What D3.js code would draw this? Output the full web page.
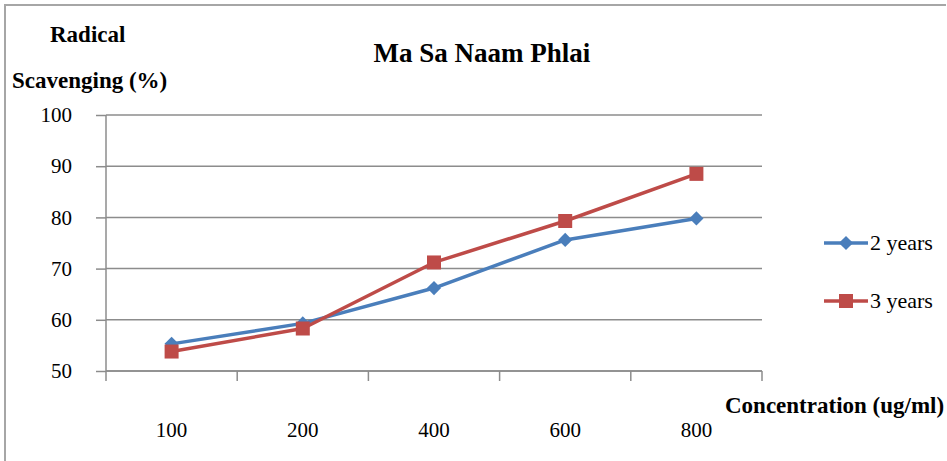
<!DOCTYPE html>
<html>
<head>
<meta charset="utf-8">
<script src="https://cdn.jsdelivr.net/npm/d3@7"></script>
<style>
  body { margin: 0; background: #fff; }
  svg text { font-family: "Times New Roman", "Liberation Serif", "DejaVu Serif", serif; }
</style>
</head>
<body>
<div id="chart"></div>
<script>
// chart data
const concentrations = ["100", "200", "400", "600", "800"];
const years2 = [55.3, 59.3, 66.2, 75.6, 79.8];
const years3 = [53.8, 58.3, 71.2, 79.3, 88.5];
const yTicks = [50, 60, 70, 80, 90, 100];
const seriesNames = ["2 years", "3 years"];

const serif = "'Times New Roman', 'Liberation Serif', 'DejaVu Serif', serif";
const width = 947, height = 461;
const margin = ({top: 115, right: 185, bottom: 90, left: 106});

const svg = d3.select("#chart").append("svg")
  .attr("width", width).attr("height", height)
  .attr("font-family", serif);

// outer frame (top + left edges visible)
svg.append("path")
  .attr("d", `M5,${height} L5,5 L${width - 1},5`)
  .attr("fill", "none")
  .attr("stroke", "#a6a6a6")
  .attr("stroke-width", 2);

const x = d3.scaleBand()
  .domain(concentrations)
  .range([margin.left, width - margin.right])
  .padding(0);

const y = d3.scaleLinear()
  .domain([50, 100])
  .range([height - margin.bottom, margin.top]);

// gridlines
svg.append("g")
  .selectAll("line")
  .data(yTicks)
  .join("line")
    .attr("x1", margin.left)
    .attr("x2", width - margin.right)
    .attr("y1", d => y(d))
    .attr("y2", d => y(d))
    .attr("stroke", "#8c8c8c")
    .attr("stroke-width", 1.5);

// y axis
svg.append("g")
  .attr("transform", `translate(${margin.left},0)`)
  .call(d3.axisLeft(y).tickValues(yTicks).tickSize(10).tickPadding(24))
  .attr("font-family", serif)
  .attr("font-size", 21)
  .call(g => g.selectAll("line, path").attr("stroke", "#8c8c8c").attr("stroke-width", 1.5))
  .call(g => g.select(".domain").attr("d", `M0,${y(100)}V${y(50)}`))
  .call(g => g.selectAll("text").attr("fill", "#000"));

// x axis: ticks between categories
const xBounds = concentrations.map(d => x(d)).concat([x.range()[1]]);
svg.append("line")
  .attr("x1", margin.left).attr("x2", width - margin.right)
  .attr("y1", y(50)).attr("y2", y(50))
  .attr("stroke", "#8c8c8c").attr("stroke-width", 1.5);
svg.append("g")
  .selectAll("line")
  .data(xBounds)
  .join("line")
    .attr("x1", d => d).attr("x2", d => d)
    .attr("y1", y(50)).attr("y2", y(50) + 10)
    .attr("stroke", "#8c8c8c").attr("stroke-width", 1.5);
svg.append("g")
  .selectAll("text")
  .data(concentrations)
  .join("text")
    .attr("x", d => x(d) + x.bandwidth() / 2)
    .attr("y", 437)
    .attr("text-anchor", "middle")
    .attr("font-size", 21)
    .text(d => d);

// lines
const line = d3.line()
  .x((d, i) => x(concentrations[i]) + x.bandwidth() / 2)
  .y(d => y(d));

const colors = ["#4a7ebb", "#be4b48"];

svg.append("path").datum(years2)
  .attr("fill", "none").attr("stroke", colors[0]).attr("stroke-width", 3.5)
  .attr("stroke-linejoin", "round").attr("d", line);
svg.append("path").datum(years3)
  .attr("fill", "none").attr("stroke", colors[1]).attr("stroke-width", 3.5)
  .attr("stroke-linejoin", "round").attr("d", line);

const diamond = d3.symbol().type(d3.symbolSquare).size(100);
svg.append("g")
  .selectAll("path")
  .data(years2)
  .join("path")
    .attr("d", diamond)
    .attr("transform", (d, i) => `translate(${x(concentrations[i]) + x.bandwidth() / 2},${y(d)}) rotate(45)`)
    .attr("fill", colors[0]);

const square = d3.symbol().type(d3.symbolSquare).size(196);
svg.append("g")
  .selectAll("path")
  .data(years3)
  .join("path")
    .attr("d", square)
    .attr("transform", (d, i) => `translate(${x(concentrations[i]) + x.bandwidth() / 2},${y(d)})`)
    .attr("fill", colors[1]);

// legend
const legendY = [243, 301];
seriesNames.forEach((name, i) => {
  const g = svg.append("g").attr("transform", `translate(0,${legendY[i]})`);
  g.append("line").attr("x1", 824).attr("x2", 868).attr("y1", 0).attr("y2", 0)
    .attr("stroke", colors[i]).attr("stroke-width", 3.5);
  g.append("path")
    .attr("d", i === 0 ? diamond : square)
    .attr("transform", i === 0 ? "translate(846,0) rotate(45)" : "translate(846,0)")
    .attr("fill", colors[i]);
  g.append("text").attr("x", 870).attr("y", 0).attr("dy", "0.33em")
    .attr("font-size", 22).text(name);
});

// title and axis labels
svg.append("text")
  .attr("x", 482).attr("y", 62)
  .attr("text-anchor", "middle")
  .attr("font-size", 27).attr("font-weight", "bold")
  .text("Ma Sa Naam Phlai");

svg.append("text")
  .attr("x", 50).attr("y", 42)
  .attr("font-size", 23).attr("font-weight", "bold")
  .text("Radical");

svg.append("text")
  .attr("x", 12).attr("y", 88)
  .attr("font-size", 23).attr("font-weight", "bold")
  .text("Scavenging (%)");

svg.append("text")
  .attr("x", 725).attr("y", 413)
  .attr("font-size", 23).attr("font-weight", "bold")
  .text("Concentration (ug/ml)");
</script>
</body>
</html>
